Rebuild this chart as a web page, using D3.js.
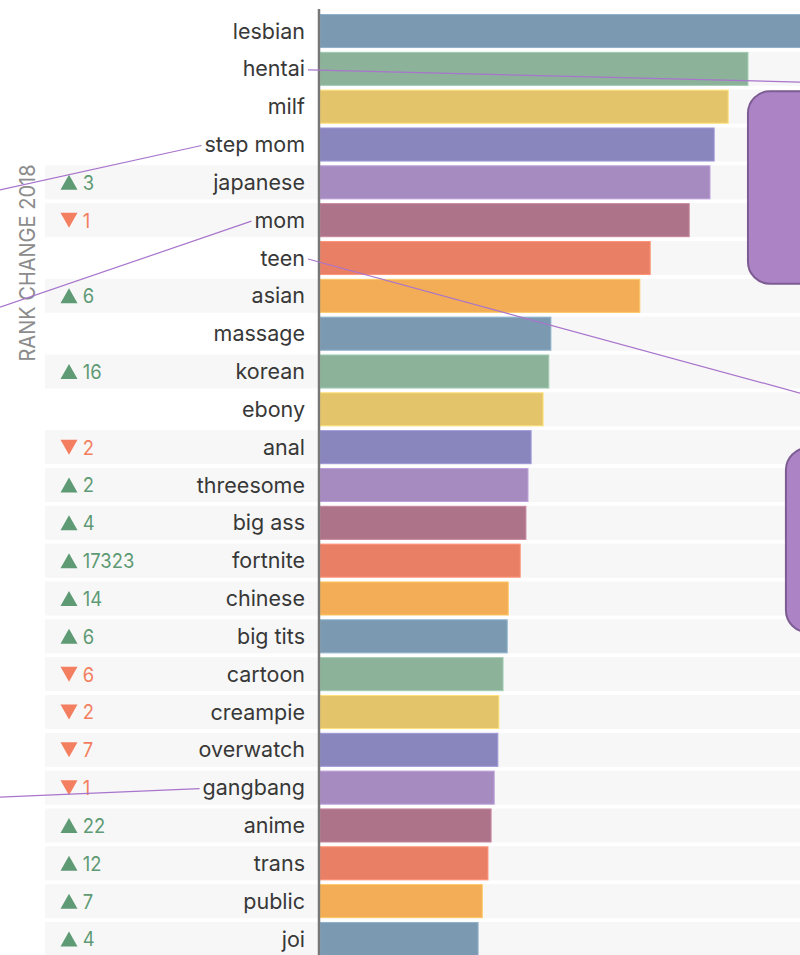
<!DOCTYPE html>
<html>
<head>
<meta charset="utf-8">
<script src="https://cdn.jsdelivr.net/npm/d3@7"></script>
<style>
  body { margin: 0; background: #fff; }
  text { font-family: Inter, "Open Sans", sans-serif; }
</style>
</head>
<body>
<div id="graphic"></div>
<script>
// search terms, ranked
var terms = ["lesbian", "hentai", "milf", "step mom", "japanese", "mom", "teen", "asian",
  "massage", "korean", "ebony", "anal", "threesome", "big ass", "fortnite", "chinese",
  "big tits", "cartoon", "creampie", "overwatch", "gangbang", "anime", "trans", "public", "joi"];

// relative search volume (lesbian = 100)
var volumes = [100, 82.3, 78.5, 75.8, 75.0, 71.0, 63.5, 61.5,
  44.4, 44.0, 42.9, 40.6, 40.0, 39.6, 38.5, 36.2,
  36.0, 35.2, 34.4, 34.2, 33.5, 32.9, 32.3, 31.2, 30.4];

// rank change vs 2017 (null = no change shown)
var rankChanges = [null, null, null, null, 3, -1, null, 6,
  null, 16, null, -2, 2, 4, 17323, 14,
  6, -6, -2, -7, -1, 22, 12, 7, 4];

var palette = ["#7b9ab2", "#8cb29a", "#e4c46a", "#8985bd", "#a58bc0", "#ad7489", "#e98066", "#f2ad56"];

// annotation leader lines: which label, which side they leave to, where they end (row units)
var leaders = [
  {term: "hentai", side: "right", endRow: 1.35},
  {term: "step mom", side: "left", endRow: 4.2},
  {term: "mom", side: "left", endRow: 7.3},
  {term: "teen", side: "right", endRow: 9.57},
  {term: "gangbang", side: "left", endRow: 20.25}
];

// callout boxes (row span, start value)
var callouts = [
  {fromRow: 1.59, toRow: 6.68, start: 82.3},
  {fromRow: 11.02, toRow: 15.89, start: 89.6}
];

var width = 800, height = 955;
var axisX = 320, leftBand = 45;

var data = terms.map(function(t, i) {
  return {term: t, value: volumes[i], change: rankChanges[i], i: i};
});

var svg = d3.select("#graphic").append("svg")
  .attr("width", width)
  .attr("height", height);

var y = d3.scaleBand()
  .domain(terms)
  .range([14, 956])
  .paddingInner(0.1)
  .paddingOuter(0);

var rowY = d3.scaleLinear()
  .domain([0, 1])
  .range([y(terms[0]) + y.bandwidth() / 2, y(terms[1]) + y.bandwidth() / 2]);

var x = d3.scaleLinear()
  .domain([0, 100])
  .range([axisX, axisX + 520]);

// grey row bands
svg.append("g").selectAll("rect")
  .data(data)
  .join("rect")
  .attr("x", axisX)
  .attr("y", d => y(d.term))
  .attr("width", width - axisX)
  .attr("height", y.bandwidth())
  .style("fill", "#f7f7f7");

svg.append("g").selectAll("rect")
  .data(data.filter(d => d.change !== null))
  .join("rect")
  .attr("x", leftBand)
  .attr("y", d => y(d.term))
  .attr("width", axisX - leftBand)
  .attr("height", y.bandwidth())
  .style("fill", "#f7f7f7");

// bars
svg.append("g").selectAll("rect")
  .data(data)
  .join("rect")
  .attr("x", x(0))
  .attr("y", d => y(d.term) + 0.5)
  .attr("width", d => x(d.value) - x(0))
  .attr("height", y.bandwidth() - 1)
  .style("fill", d => palette[d.i % palette.length])
  .style("stroke", d => d3.color(palette[d.i % palette.length]).brighter(0.4))
  .style("stroke-width", 1);

// term labels
var labels = svg.append("g").selectAll("text")
  .data(data)
  .join("text")
  .attr("x", 305)
  .attr("y", d => y(d.term) + y.bandwidth() / 2)
  .attr("dy", "0.35em")
  .attr("text-anchor", "end")
  .style("font-size", "21.5px")
  .style("fill", "#383838")
  .text(d => d.term);

// rank change markers
var up = "#5e9a74", down = "#f47e60";
var changes = svg.append("g").selectAll("g")
  .data(data.filter(d => d.change !== null))
  .join("g")
  .attr("transform", d => "translate(69," + (y(d.term) + y.bandwidth() / 2) + ")");

changes.append("path")
  .attr("d", d => d.change > 0 ? "M-8.5,7.5L0,-7.5L8.5,7.5Z" : "M-8.5,-7.5L0,7.5L8.5,-7.5Z")
  .style("fill", d => d.change > 0 ? up : down);

changes.append("text")
  .attr("x", 15)
  .attr("dy", "0.37em")
  .attr("transform", "scale(0.92,1)")
  .style("font-size", "20px")
  .style("fill", d => d.change > 0 ? up : down)
  .text(d => Math.abs(d.change));

// axis
svg.append("line")
  .attr("x1", axisX - 1)
  .attr("x2", axisX - 1)
  .attr("y1", 9)
  .attr("y2", height)
  .style("stroke", "#777")
  .style("stroke-width", 2.5);

// side title
svg.append("text")
  .attr("transform", "translate(35," + 263 + ") rotate(-90)")
  .attr("text-anchor", "middle")
  .attr("textLength", 197)
  .attr("lengthAdjust", "spacingAndGlyphs")
  .style("font-size", "21.5px")
  .style("fill", "#8c8c8c")
  .text("RANK CHANGE 2018");

// callout boxes
svg.append("g").selectAll("rect")
  .data(callouts)
  .join("rect")
  .attr("x", d => x(d.start))
  .attr("y", d => rowY(d.fromRow))
  .attr("width", 200)
  .attr("height", d => rowY(d.toRow) - rowY(d.fromRow))
  .attr("rx", 22)
  .style("fill", "#ac83c5")
  .style("stroke", "#7d5c93")
  .style("stroke-width", 2);

// leader lines
var labelBox = {};
labels.each(function(d) { labelBox[d.term] = this.getBBox(); });

svg.append("g").selectAll("line")
  .data(leaders)
  .join("line")
  .attr("x1", d => d.side === "right" ? 308 : labelBox[d.term].x - 3)
  .attr("y1", d => y(d.term) + y.bandwidth() / 2 + 1)
  .attr("x2", d => d.side === "right" ? width : 0)
  .attr("y2", d => rowY(d.endRow))
  .style("stroke", "#a874cc")
  .style("stroke-width", 1.2);
</script>
</body>
</html>
